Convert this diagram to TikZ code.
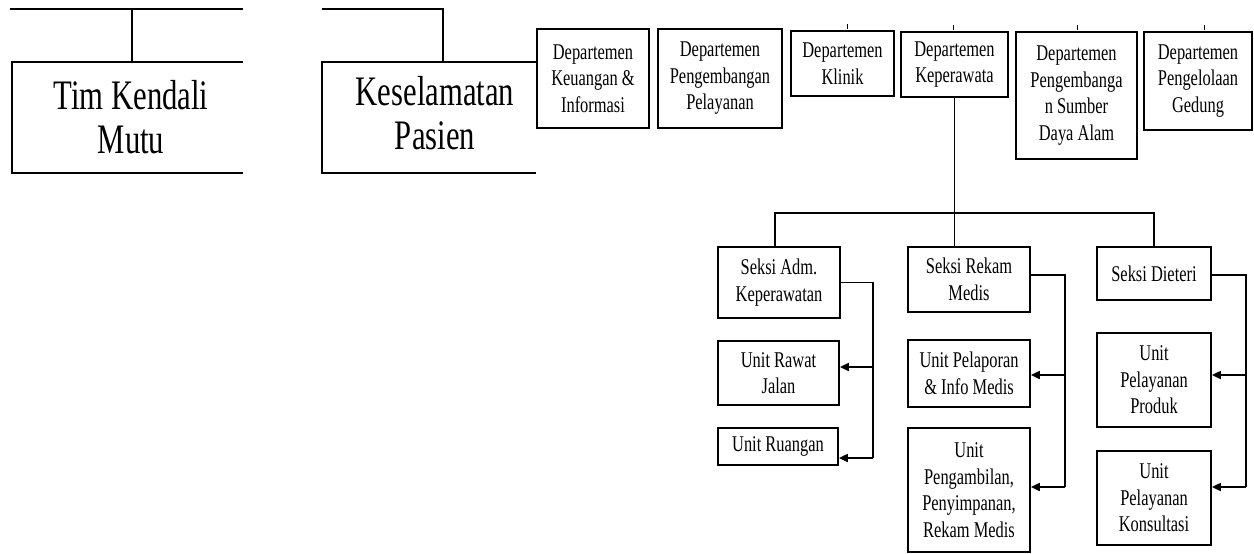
\documentclass[tikz,border=0pt]{standalone}
\usepackage{fontspec}
\setmainfont{Liberation Serif}
\newfontfamily\nfont{Liberation Serif}[FakeStretch=0.73]
\usetikzlibrary{arrows.meta}
\begin{document}
\begin{tikzpicture}[x=1pt,y=-1pt,
  box/.style={draw, line width=1.8pt, inner sep=0pt, align=center,
    font=\nfont\fontsize{22.5}{26.5}\selectfont},
  big/.style={inner sep=0pt, align=center,
    font=\nfont\fontsize{42}{44}\selectfont},
  heavy/.style={line width=2.7pt},
  conn/.style={line width=1.6pt},
  arr/.style={line width=2pt, -{Triangle[length=9pt,width=8pt]}},
  tickmark/.style={line width=0.8pt}]
\useasboundingbox (0,0) rectangle (1254,554);

% left open boxes
\node[big] (tkm) at (131,117) {Tim Kendali\\Mutu};
\node[big] (kp) at (435,113) {Keselamatan\\Pasien};

% departments
\node[box, minimum width=112pt, minimum height=99pt] (dk) at (593,78.5) {Departemen\\Keuangan \&\\Informasi};
\node[box, minimum width=124pt, minimum height=99pt] (dp) at (720,78.5) {Departemen\\Pengembangan\\Pelayanan};
\node[box, minimum width=103pt, minimum height=65pt] (dkl) at (842.5,63.5) {Departemen\\Klinik};
\node[box, minimum width=107pt, minimum height=65pt] (dkp) at (954.5,64.5) {Departemen\\Keperawata};
\node[box, minimum width=121pt, minimum height=127pt] (dsd) at (1076.5,95.5) {Departemen\\Pengembanga\\n Sumber\\Daya Alam};
\node[box, minimum width=108pt, minimum height=98pt] (dpg) at (1198,81) {Departemen\\Pengelolaan\\Gedung};

\draw[heavy] (10,9) -- (243,9);
\draw[heavy] (132,9) -- (132,62);
\draw[heavy] (243,62) -- (12,62) -- (12,173) -- (243,173);
\draw[heavy] (322,9) -- (443,9) -- (443,62);
\draw[heavy] (0,62 -| dk.west) -- (322,62) -- (322,173) -- (536,173);

% small marks above departments
\draw[tickmark] (847,24) -- (847,29);
\draw[tickmark] (953,25) -- (953,30);
\draw[tickmark] (1077,25) -- (1077,30);
\draw[tickmark] (1204,25) -- (1204,30);

% sections
\node[box, minimum width=122pt, minimum height=71pt] (sa) at (779,282.5) {Seksi Adm.\\Keperawatan};
\node[box, minimum width=122pt, minimum height=65pt] (sr) at (969,279.5) {Seksi Rekam\\Medis};
\node[box, minimum width=114pt, minimum height=53pt] (sd) at (1154,273.5) {Seksi Dieteri};

\coordinate (jl) at (775,213);
\coordinate (jr) at (1154,213);
\draw[conn] (dkp.south) -- (dkp.south |- sr.north);
\draw[conn] (jl |- sa.north) -- (jl) -- (jr) -- (sd.north);

% units
\node[box, minimum width=121pt, minimum height=64pt] (ur) at (778.5,373) {Unit Rawat\\Jalan};
\node[box, minimum width=120pt, minimum height=37pt] (uru) at (778,446.5) {Unit Ruangan};
\node[box, minimum width=122pt, minimum height=67pt] (upl) at (969,373.5) {Unit Pelaporan\\\& Info Medis};
\node[box, minimum width=122pt, minimum height=124pt] (upg) at (969,490) {Unit\\Pengambilan,\\Penyimpanan,\\Rekam Medis};
\node[box, minimum width=114pt, minimum height=94pt] (upp) at (1154,380) {Unit\\Pelayanan\\Produk};
\node[box, minimum width=114pt, minimum height=94pt] (upk) at (1154,498) {Unit\\Pelayanan\\Konsultasi};

% bracket connectors
\coordinate (a0) at (873,282.5);
\coordinate (a1) at (873,367);
\coordinate (a2) at (873,458);
\draw[conn] (sa.east) -- (a0) -- (a2);
\draw[arr] (a1) -- (a1 -| ur.east);
\draw[arr] (a2) -- (a2 -| uru.east);

\coordinate (r0) at (1065,275);
\coordinate (r1) at (1065,375);
\coordinate (r2) at (1065,487);
\draw[conn] (r0 -| sr.east) -- (r0) -- (r2);
\draw[arr] (r1) -- (r1 -| upl.east);
\draw[arr] (r2) -- (r2 -| upg.east);

\coordinate (d0) at (1246,275);
\coordinate (d1) at (1246,375);
\coordinate (d2) at (1246,487);
\draw[conn] (d0 -| sd.east) -- (d0) -- (d2);
\draw[arr] (d1) -- (d1 -| upp.east);
\draw[arr] (d2) -- (d2 -| upk.east);
\end{tikzpicture}
\end{document}
